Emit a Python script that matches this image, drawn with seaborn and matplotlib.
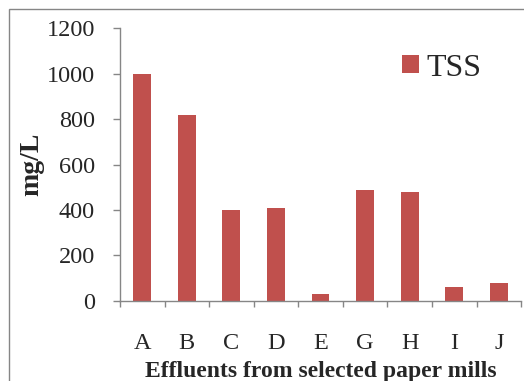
import matplotlib
matplotlib.use("Agg")
import matplotlib.pyplot as plt
import seaborn as sns
import pandas as pd
from matplotlib.patches import Rectangle

categories = ["A", "B", "C", "D", "E", "G", "H", "I", "J"]
tss_values = [1000, 820, 400, 410, 28, 490, 477, 60, 80]
series_name = "TSS"
y_ticks = [0, 200, 400, 600, 800, 1000, 1200]

sns.set_style("white")
plt.rcParams["font.family"] = ["Liberation Serif", "DejaVu Serif"]

df = pd.DataFrame({"mill": categories, "value": tss_values})

fig = plt.figure(figsize=(5.24, 3.81), dpi=100)
ax = fig.add_axes([0.229, 0.2108, 0.7654, 0.7144])

sns.barplot(data=df, x="mill", y="value", color="#C0504D", saturation=1,
            width=0.4, linewidth=0, label=series_name, ax=ax)

gray = "#868686"
ax.set_ylim(0, 1200)
ax.set_xlim(-0.5, len(categories) - 0.5)
ax.set_yticks(y_ticks)
ax.set_yticklabels([str(t) for t in y_ticks])
for s in ["top", "right"]:
    ax.spines[s].set_visible(False)
for s in ["left", "bottom"]:
    ax.spines[s].set_color(gray)
    ax.spines[s].set_linewidth(1.0)

ax.tick_params(axis="y", direction="out", length=5, width=1.0, color=gray,
               labelsize=17.5, pad=13, left=True)
ax.tick_params(axis="x", which="major", length=0, labelsize=17.5, pad=23)
ax.set_xticks([i - 0.5 for i in range(len(categories) + 1)], minor=True)
ax.tick_params(axis="x", which="minor", direction="out", length=4.5,
               width=1.0, color=gray, bottom=True)

ax.set_xlabel("Effluents from selected paper mills", fontsize=17,
              fontweight="bold")
ax.set_ylabel("mg/L", fontsize=20, fontweight="bold")
ax.xaxis.set_label_coords(0.5, -0.22)
ax.yaxis.set_label_coords(-0.19, 0.5)

leg = ax.legend(loc="center left", bbox_to_anchor=(402 / 524, 1 - 68 / 381),
                bbox_transform=fig.transFigure, frameon=False, fontsize=23,
                handlelength=0.52, handleheight=0.52, handletextpad=0.25,
                borderpad=0, borderaxespad=0)

fig.add_artist(Rectangle((8.5 / 524, -0.5), 2, 0.5 + 1 - 8.5 / 381,
                         transform=fig.transFigure, fill=False,
                         edgecolor=gray, linewidth=1.0))

fig.savefig("out.png", dpi=100)
